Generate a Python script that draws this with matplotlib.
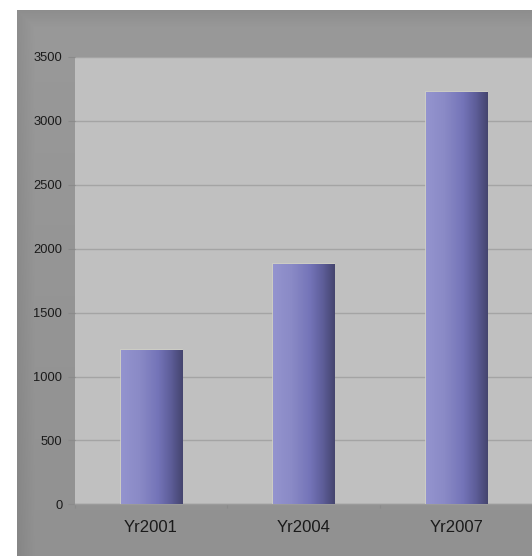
import matplotlib
matplotlib.use('Agg')
import matplotlib.pyplot as plt
import numpy as np
from matplotlib import font_manager
from matplotlib.colors import LinearSegmentedColormap

categories = ['Yr2001', 'Yr2004', 'Yr2007']
values = [1205, 1880, 3225]
yticks = [0, 500, 1000, 1500, 2000, 2500, 3000, 3500]

names = {f.name for f in font_manager.fontManager.ttflist}
yfont = 'Liberation Sans Narrow' if 'Liberation Sans Narrow' in names else 'Liberation Sans'
xfont = 'Liberation Sans'

W, H = 532, 556
dpi = 100
fig = plt.figure(figsize=(W / dpi, H / dpi), dpi=dpi)
fig.patch.set_facecolor('white')

# outer grey frame with soft shading
fx0, fy_top = 17, 10
bg = fig.add_axes([fx0 / W, 0, 1 - fx0 / W, (H - fy_top) / H])
bg.set_axis_off()
fw, fh = W - fx0, H - fy_top
yy, xx = np.mgrid[0:fh, 0:fw].astype(float)
d = np.minimum(np.minimum(xx, yy), fw - xx + 20)
g = 0.555 + 0.045 * np.clip(d / 18.0, 0, 1) - 0.03 * (yy / fh)
bg.imshow(np.dstack([g, g, g]), aspect='auto', extent=[0, 1, 0, 1], origin='upper')
bg.set_xlim(0, 1)
bg.set_ylim(0, 1)

# plot area
left, right = 74.75, W + 0.5
top, bottom = 57, 504.3
ax = fig.add_axes([left / W, (H - bottom) / H, (right - left) / W, (bottom - top) / H])
ax.set_facecolor('#c0c0c0')

x = np.arange(len(categories))
bw = 0.4
bars = ax.bar(x, values, width=bw, color='none', edgecolor='#cfcfc6', linewidth=1.2, zorder=3)

cmap = LinearSegmentedColormap.from_list('bar', [
    (0.0, '#9494cf'), (0.3, '#8a8ac6'), (0.6, '#7474b8'), (0.8, '#5e5e9a'), (1.0, '#45456e')])
grad = np.linspace(0, 1, 256).reshape(1, -1)
for b in bars:
    bx, by = b.get_x(), b.get_y()
    im = ax.imshow(grad, cmap=cmap, aspect='auto', zorder=4,
                   extent=[bx, bx + b.get_width(), by, by + b.get_height()])
    im.set_clip_path(b)

ax.set_xlim(-0.5, len(categories) - 0.5)
ax.set_ylim(0, 3500)
ax.set_yticks(yticks)
ax.set_yticklabels([str(v) for v in yticks], fontfamily=yfont, fontsize=9.3, color='#1a1a1a')
ax.set_xticks(x)
ax.set_xticklabels(categories, fontfamily=xfont, fontsize=12, color='#1a1a1a')
ax.set_xticks(np.arange(len(categories) + 1) - 0.5, minor=True)
ax.tick_params(axis='x', which='major', length=0, pad=11)
ax.tick_params(axis='x', which='minor', length=3, color='#8a8a8a', width=0.8)
ax.tick_params(axis='y', length=5, color='#8a8a8a', width=0.8, pad=4)

ax.yaxis.grid(True, color='#a4a4a4', linewidth=1.0, zorder=1)
ax.set_axisbelow(True)
for s in ['top', 'right', 'left']:
    ax.spines[s].set_visible(False)
ax.spines['bottom'].set_color('#9a9a9a')
ax.spines['bottom'].set_linewidth(1.0)

fig.savefig('out.png', dpi=dpi, facecolor='white')
